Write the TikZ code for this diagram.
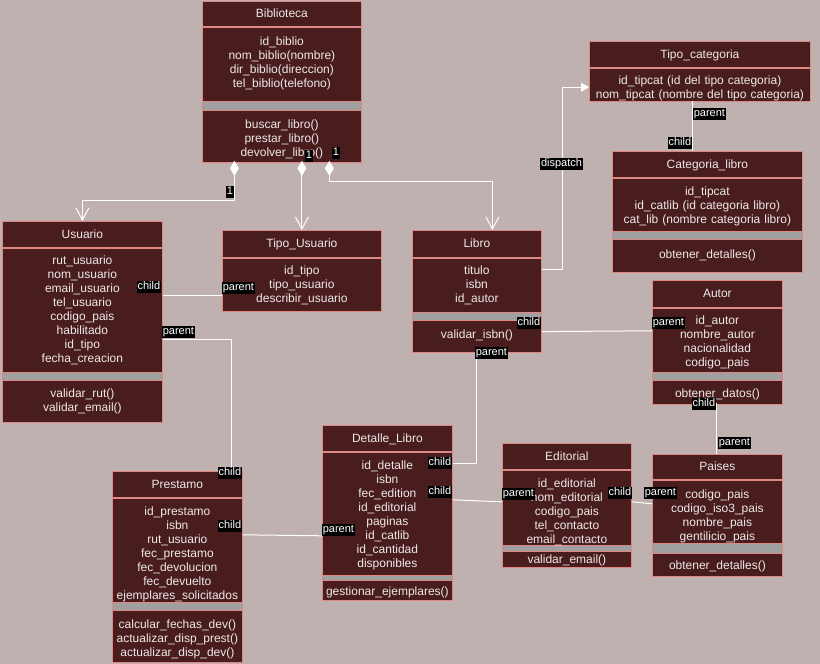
\documentclass[tikz,border=0pt]{standalone}
\usepackage{fontspec}
\setmainfont{Liberation Sans}
\usepackage{tikz}
\usetikzlibrary{arrows.meta, positioning}

\definecolor{bgc}{RGB}{191,177,176}
\definecolor{wine}{RGB}{73,29,29}
\definecolor{rim}{RGB}{222,136,132}
\definecolor{band}{RGB}{160,160,160}
\definecolor{paper}{RGB}{238,232,232}

\begin{document}
\begin{tikzpicture}[
  x=1pt, y=-1pt,
  frame/.style={
    rectangle, draw=rim, fill=band, line width=0.8pt,
    inner sep=0pt, anchor=north west
  },
  head/.style={
    rectangle, draw=rim, fill=wine, text=paper, line width=0.8pt,
    inner sep=0pt, anchor=north west, text height=10pt, text depth=2pt,
    font=\fontsize{12pt}{14pt}\selectfont
  },
  part/.style={
    rectangle, draw=rim, fill=wine, text=paper, line width=0.8pt,
    inner sep=0pt, align=center,
    font=\fontsize{12pt}{14pt}\selectfont
  },
  tag/.style={
    fill=black, text=white, inner xsep=0.6pt, inner ysep=0.3pt,
    text height=8pt, text depth=2.5pt,
    font=\fontsize{11pt}{12pt}\selectfont
  },
  link/.style={draw=white, line width=1pt},
  owns/.style={link, arrows={Diamond[length=15pt,width=9pt]-Straight Barb[length=12pt,width=13pt]}}
]
  \useasboundingbox (0,0) rectangle (820,664);
  \fill[bgc] (0,0) rectangle (820,664);

  % Biblioteca
  \node[frame, minimum width=159pt, minimum height=159pt] (bib) at (202,1) {};
  \node[head, minimum width=159pt, minimum height=25pt] (bibT) at (202,1) {Biblioteca};
  \node[part, text width=159pt, text height=18pt, text depth=56pt, below=0pt of bibT] (bibA)
    {id\_biblio\\ nom\_biblio(nombre)\\ dir\_biblio(direccion)\\ tel\_biblio(telefono)};
  \node[part, text width=159pt, text height=18pt, text depth=34pt, below=8pt of bibA] (bibM)
    {buscar\_libro()\\ prestar\_libro()\\ devolver\_libro()};

  % Tipo_categoria
  \node[frame, minimum width=221pt, minimum height=59pt] (tc) at (589,41) {};
  \node[head, minimum width=221pt, minimum height=26pt] (tcT) at (589,41) {Tipo\_categoria};
  \node[part, text width=221pt, text height=16pt, text depth=17pt, below=0pt of tcT] (tcA)
    {id\_tipcat (id del tipo categoria)\\ nom\_tipcat (nombre del tipo categoria)};

  % Categoria_libro
  \node[frame, minimum width=190pt, minimum height=119pt] (cat) at (612,151) {};
  \node[head, minimum width=190pt, minimum height=26pt] (catT) at (612,151) {Categoria\_libro};
  \node[part, text width=190pt, text height=17pt, text depth=36pt, below=0pt of catT] (catA)
    {id\_tipcat\\ id\_catlib (id categoria libro)\\ cat\_lib (nombre categoria libro)};
  \node[part, text width=190pt, text height=19pt, text depth=14pt, below=7pt of catA] (catM)
    {obtener\_detalles()};

  % Usuario
  \node[frame, minimum width=160pt, minimum height=199pt] (usu) at (2,221) {};
  \node[head, minimum width=160pt, minimum height=26pt] (usuT) at (2,221) {Usuario};
  \node[part, text width=160pt, text height=16pt, text depth=108pt, below=0pt of usuT] (usuA)
    {rut\_usuario\\ nom\_usuario\\ email\_usuario\\ tel\_usuario\\ codigo\_pais\\ habilitado\\ id\_tipo\\ fecha\_creacion};
  \node[part, text width=160pt, text height=17pt, text depth=25pt, below=7pt of usuA] (usuM)
    {validar\_rut()\\ validar\_email()};

  % Tipo_Usuario
  \node[frame, minimum width=159pt, minimum height=80pt] (tus) at (222,230) {};
  \node[head, minimum width=159pt, minimum height=27pt] (tusT) at (222,230) {Tipo\_Usuario};
  \node[part, text width=159pt, text height=16pt, text depth=37pt, below=0pt of tusT] (tusA)
    {id\_tipo\\ tipo\_usuario\\ describir\_usuario};

  % Libro
  \node[frame, minimum width=129pt, minimum height=120pt] (lib) at (412,230) {};
  \node[head, minimum width=129pt, minimum height=27pt] (libT) at (412,230) {Libro};
  \node[part, text width=129pt, text height=16pt, text depth=38pt, below=0pt of libT] (libA)
    {titulo\\ isbn\\ id\_autor};
  \node[part, text width=129pt, text height=18pt, text depth=14pt, below=7pt of libA] (libM)
    {validar\_isbn()};

  % Autor
  \node[frame, minimum width=130pt, minimum height=122pt] (aut) at (652,280) {};
  \node[head, minimum width=130pt, minimum height=27pt] (autT) at (652,280) {Autor};
  \node[part, text width=130pt, text height=16pt, text depth=48pt, below=0pt of autT] (autA)
    {id\_autor\\ nombre\_autor\\ nacionalidad\\ codigo\_pais};
  \node[part, text width=130pt, text height=17pt, text depth=7pt, below=7pt of autA] (autM)
    {obtener\_datos()};

  % Paises
  \node[frame, minimum width=130pt, minimum height=120pt] (pai) at (652,454) {};
  \node[head, minimum width=130pt, minimum height=25pt] (paiT) at (652,454) {Paises};
  \node[part, text width=130pt, text height=18pt, text depth=45pt, below=0pt of paiT] (paiA)
    {codigo\_pais\\ codigo\_iso3\_pais\\ nombre\_pais\\ gentilicio\_pais};
  \node[part, text width=130pt, text height=16pt, text depth=7pt, below=9pt of paiA] (paiM)
    {obtener\_detalles()};

  % Prestamo
  \node[frame, minimum width=130pt, minimum height=189pt] (pre) at (112,471) {};
  \node[head, minimum width=130pt, minimum height=26pt] (preT) at (112,471) {Prestamo};
  \node[part, text width=130pt, text height=17pt, text depth=87pt, below=0pt of preT] (preA)
    {id\_prestamo\\ isbn\\ rut\_usuario\\ fec\_prestamo\\ fec\_devolucion\\ fec\_devuelto\\ ejemplares\_solicitados};
  \node[part, text width=130pt, text height=18pt, text depth=34pt, below=7pt of preA] (preM)
    {calcular\_fechas\_dev()\\ actualizar\_disp\_prest()\\ actualizar\_disp\_dev()};

  % Detalle_Libro
  \node[frame, minimum width=130pt, minimum height=173pt] (det) at (322,425) {};
  \node[head, minimum width=130pt, minimum height=26pt] (detT) at (322,425) {Detalle\_Libro};
  \node[part, text width=130pt, text height=17pt, text depth=106pt, below=0pt of detT] (detA)
    {id\_detalle\\ isbn\\ fec\_edition\\ id\_editorial\\ paginas\\ id\_catlib\\ id\_cantidad\\ disponibles};
  \node[part, text width=130pt, text height=15pt, text depth=5pt, below=4pt of detA] (detM)
    {gestionar\_ejemplares()};

  % Editorial
  \node[frame, minimum width=129pt, minimum height=122pt] (edi) at (502,443) {};
  \node[head, minimum width=129pt, minimum height=26pt] (ediT) at (502,443) {Editorial};
  \node[part, text width=129pt, text height=17pt, text depth=58pt, below=0pt of ediT] (ediA)
    {id\_editorial\\ nom\_editorial\\ codigo\_pais\\ tel\_contacto\\ email\_contacto};
  \node[part, text width=129pt, text height=12pt, text depth=4pt, below=5pt of ediA] (ediM)
    {validar\_email()};

  % connectors
  \draw[owns] ([xshift=-47.5pt]bib.south) -- ++(0,40) -| (usu.north);
  \draw[owns] (bib.south -| tus.north) -- (tus.north);
  \draw[owns] ([xshift=47.5pt]bib.south) -- ++(0,21) -| ([xshift=15.5pt]lib.north);
  \draw[link, -{Triangle[length=8pt,width=9pt]}] ([yshift=-12pt]libA.north east) -- ++(21,0) |- ([yshift=-2.5pt]tcA.west);
  \draw[link] ([xshift=-7.5pt]tc.south) -- ([xshift=-15pt]cat.north);
  \draw[link] ([yshift=-48pt]usuA.north east) -- ([yshift=-38pt]tusA.north west);
  \draw[link] ([yshift=-92pt]usuA.north east) -| ([xshift=54pt]pre.north);
  \draw[link] ([yshift=-37pt]preA.north east) -- ([yshift=-84pt]detA.north west);
  \draw[link] (libM.south) |- ([yshift=-12pt]detA.north east);
  \draw[link] ([yshift=-12pt]libM.north east) -- ([yshift=-23pt]autA.north west);
  \draw[link] ([xshift=-1pt]aut.south) -- ([xshift=-1pt]pai.north);
  \draw[link] ([yshift=-48pt]detA.north east) -- ([yshift=-32pt]ediA.north west);
  \draw[link] ([yshift=-32pt]ediA.north east) -- ([yshift=-24pt]paiA.north west);

  % multiplicities and roles
  \node[tag] (m1) at (230,192) {1};
  \node[tag] (m2) at (309,156) {1};
  \node[tag] (m3) at (336,153) {1};
  \node[tag] (dsp) at (561.5,164) {dispatch};
  \node[tag, anchor=west] (tcP) at (693,114) {parent};
  \node[tag, anchor=east] (catC) at (692,143) {child};
  \node[tag, anchor=east] (usuC) at (161,287) {child};
  \node[tag, anchor=west] (tusP) at (222,288) {parent};
  \node[tag, anchor=west] (usuP) at (162,332) {parent};
  \node[tag, anchor=east] (preC1) at (242,473) {child};
  \node[tag, anchor=east] (preC2) at (242,526) {child};
  \node[tag, anchor=west] (detP) at (322,530) {parent};
  \node[tag, anchor=west] (libP) at (475,353) {parent};
  \node[tag, anchor=east] (detC1) at (452,463) {child};
  \node[tag, anchor=east] (libC) at (541,323) {child};
  \node[tag, anchor=west] (autP) at (652,323) {parent};
  \node[tag, anchor=east] (autC) at (716,404) {child};
  \node[tag, anchor=west] (paiP1) at (718,443) {parent};
  \node[tag, anchor=east] (detC2) at (452,492) {child};
  \node[tag, anchor=west] (ediP) at (502,494) {parent};
  \node[tag, anchor=east] (ediC) at (632,493) {child};
  \node[tag, anchor=west] (paiP2) at (644,493) {parent};
\end{tikzpicture}
\end{document}
